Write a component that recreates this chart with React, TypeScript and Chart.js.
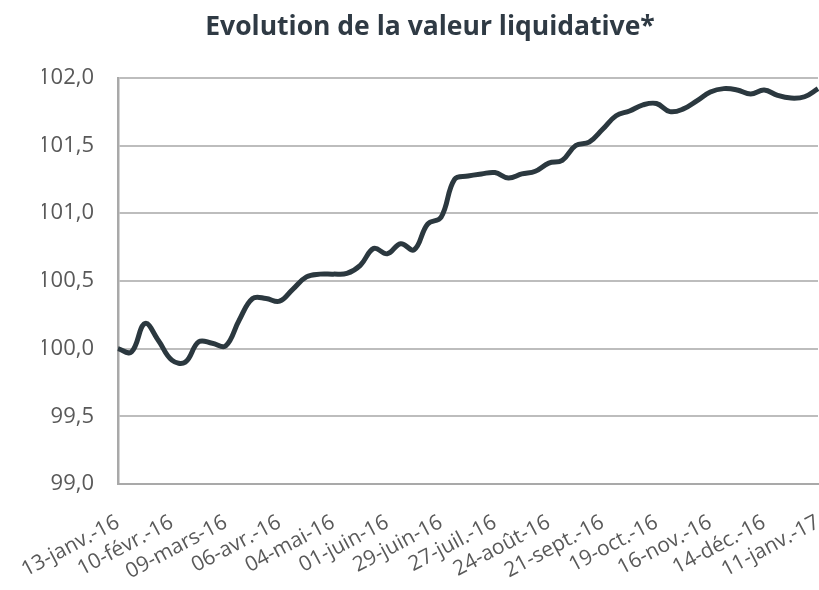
import React, { useEffect, useRef } from "react";
import { Chart, registerables } from "chart.js";

Chart.register(...registerables);

const TITLE = "Evolution de la valeur liquidative*";

// Dates shown on the axis (one every 4 weeks)
const tickLabels = [
  "13-janv.-16", "10-févr.-16", "09-mars-16", "06-avr.-16", "04-mai-16",
  "01-juin-16", "29-juin-16", "27-juil.-16", "24-août-16", "21-sept.-16",
  "19-oct.-16", "16-nov.-16", "14-déc.-16", "11-janv.-17",
];

// Weekly net asset values (53 weeks)
const values = [
  100.0, 99.975, 100.185, 100.06, 99.915, 99.9, 100.05, 100.04, 100.02, 100.21,
  100.37, 100.37, 100.35, 100.44, 100.53, 100.55, 100.55, 100.555, 100.615, 100.74,
  100.7, 100.775, 100.73, 100.92, 100.97, 101.25, 101.275, 101.29, 101.3, 101.26,
  101.29, 101.31, 101.37, 101.39, 101.5, 101.525, 101.62, 101.72, 101.755, 101.8,
  101.81, 101.75, 101.77, 101.83, 101.895, 101.92, 101.91, 101.88, 101.91, 101.87,
  101.85, 101.86, 101.92,
];

const Y_MIN = 99;
const Y_MAX = 102;
const Y_STEP = 0.5;

export default function App() {
  const ref = useRef<HTMLCanvasElement | null>(null);

  useEffect(() => {
    document.body.style.margin = "0";
    const canvas = ref.current;
    if (!canvas) return;
    const labels = values.map((_, i) => (i % 4 === 0 ? tickLabels[i / 4] : ""));
    const font = "'Open Sans', 'DejaVu Sans', sans-serif";
    const chart = new Chart(canvas, {
      type: "line",
      data: {
        labels,
        datasets: [
          {
            data: values,
            borderColor: "#2b383f",
            borderWidth: 5,
            pointRadius: 0,
            tension: 0.4,
            fill: false,
          },
        ],
      },
      options: {
        animation: false,
        responsive: false,
        maintainAspectRatio: false,
        layout: { padding: { left: 42, right: 1, top: 0, bottom: 0 } },
        plugins: {
          legend: { display: false },
          tooltip: { enabled: false },
          title: {
            display: true,
            text: TITLE,
            color: "#2f3a44",
            font: { family: font, size: 26.5, weight: "bold" },
            padding: { top: 12, bottom: 34 },
          },
        },
        scales: {
          x: {
            offset: false,
            grid: { display: false, drawTicks: false },
            border: { display: true, color: "#a9a9a9", width: 2 },
            ticks: {
              autoSkip: false,
              maxRotation: 28,
              minRotation: 28,
              padding: 26,
              color: "#595959",
              font: { family: font, size: 21 },
            },
            afterFit: (s: any) => {
              s.height = 106;
              s.paddingRight = 0;
              s.paddingLeft = 0;
            },
          },
          y: {
            min: Y_MIN,
            max: Y_MAX,
            grid: { color: "#bdbdbd", lineWidth: 2, drawTicks: false },
            border: { display: true, color: "#a9a9a9", width: 2.5 },
            ticks: {
              stepSize: Y_STEP,
              padding: 24,
              color: "#595959",
              font: { family: font, size: 22 },
              callback: (v: any) => Number(v).toFixed(1).replace(".", ","),
            },
            afterFit: (s: any) => {
              s.width = 76;
            },
          },
        },
      },
    });
    return () => chart.destroy();
  }, []);

  return <canvas ref={ref} width={819} height={590} style={{ display: "block" }} />;
}
